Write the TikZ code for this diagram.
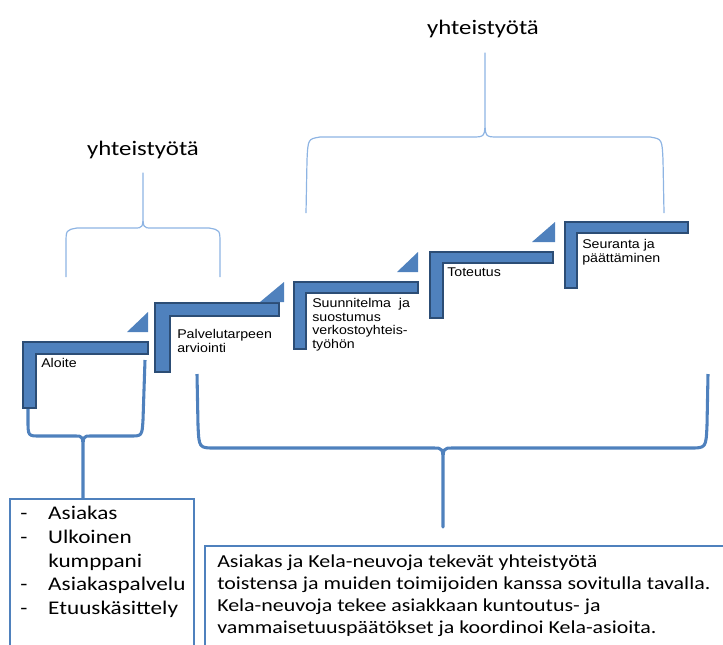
\documentclass[tikz,border=0pt]{standalone}
\usepackage{fontspec}
\setmainfont{Carlito}
\newfontfamily\calw[FakeStretch=1.2]{Carlito}
\newfontfamily\arialw[FakeStretch=1.12]{Liberation Sans}
\usetikzlibrary{positioning}

\definecolor{stepblue}{HTML}{4F81BD}
\definecolor{stepedge}{HTML}{2C4D75}
\definecolor{bracelight}{HTML}{8EB4E3}

\begin{document}
\begin{tikzpicture}[x=0.75pt, y=-0.75pt,
    stepbar/.style={draw=stepedge, fill=stepblue, line width=1.1pt},
    steptri/.style={fill=stepblue},
    steplbl/.style={anchor=north west, inner sep=0pt, align=left, font={\arialw\fontsize{9.5}{10.2}\selectfont}},
    toplbl/.style={inner sep=0pt, font={\calw\fontsize{15.5}{18}\selectfont}},
    thinbrace/.style={draw=bracelight, line width=0.9pt, line join=round},
    thickbrace/.style={draw=stepblue, line width=2.3pt, line join=round},
    infobox/.style={draw=stepblue, line width=1.5pt, fill=white, anchor=north west, inner sep=0pt},
    listlbl/.style={anchor=north west, inner sep=0pt, align=left, font={\calw\fontsize{14.5}{17.8}\selectfont}},
    boxlbl/.style={anchor=north west, inner sep=0pt, align=left, font={\calw\fontsize{13.7}{16.5}\selectfont}}]
      \useasboundingbox (0,0) rectangle (723,644);
      \clip (0,0) rectangle (723,644);

      % yhteistyo braces above the steps
      \draw[thinbrace] (66,277) -- (66,244) .. controls (66,230) .. (77,228) -- (134,228) .. controls (143,228) .. (143,212) -- (143,173)
        -- (143,212) .. controls (143,228) .. (152,228) -- (209,228) .. controls (220,230) .. (220,244) -- (220,277);
      \draw[thinbrace] (306,213) -- (307,160) .. controls (308,139) .. (320,137) -- (472,137) .. controls (485,137) .. (485,118) -- (485,53)
        -- (485,118) .. controls (485,137) .. (498,137) -- (650,137) .. controls (662,139) .. (663,160) -- (664,213);
      \node[toplbl] (yht1) at (143,150) {yhteistyötä};
      \node[toplbl] (yht2) at (483,29) {yhteistyötä};

      % boxes below
      \node[infobox, minimum width=138pt, minimum height=150pt] (osapuolet) at (9,498) {};
      \node[infobox, minimum width=450pt, minimum height=150pt] (kuvaus) at (204,545) {};

      \draw[thickbrace] (28,380) -- (28,420) .. controls (28,436) .. (40,436) -- (75,436) .. controls (83,436) .. (83,452) -- (83,0 |- osapuolet.north)
        -- (83,452) .. controls (83,436) .. (91,436) -- (130,436) .. controls (142,436) .. (143,420) -- (145,360);
      \draw[thickbrace] (197,374) -- (198,425) .. controls (199,448) .. (215,448) -- (433,448) .. controls (443,448) .. (443,465) -- (443,527)
        -- (443,465) .. controls (443,448) .. (453,448) -- (690,448) .. controls (706,448) .. (707,425) -- (708,374);

      % steps
      \draw[stepbar] (23,342) -- (148,342) -- (148,354) -- (36,354) -- (36,408) -- (23,408) -- cycle;
      \draw[stepbar] (155,303) -- (279,303) -- (279,316) -- (170,316) -- (170,372) -- (155,372) -- cycle;
      \draw[stepbar] (294,282) -- (418,282) -- (418,293) -- (306,293) -- (306,349) -- (294,349) -- cycle;
      \draw[stepbar] (430,252) -- (553,252) -- (553,263) -- (443,263) -- (443,318) -- (430,318) -- cycle;
      \draw[stepbar] (565,222) -- (688,222) -- (688,233) -- (577,233) -- (577,288) -- (565,288) -- cycle;

      \fill[steptri] (127,332) -- (148,332) -- (148,312) -- cycle;
      \fill[steptri] (260,302) -- (284,302) -- (284,282) -- cycle;
      \fill[steptri] (397,272) -- (418,272) -- (418,252) -- cycle;
      \fill[steptri] (532,242) -- (555,242) -- (555,222) -- cycle;

      \node[steplbl] (aloite) at (41,358) {Aloite};
      \node[steplbl] (arviointi) at (177,329) {Palvelutarpeen\\arviointi};
      \node[steplbl] (suunnitelma) at (312,298) {Suunnitelma\ \ ja\\suostumus\\verkostoyhteis-\\työhön};
      \node[steplbl] (toteutus) at (447,268) {Toteutus};
      \node[steplbl] (seuranta) at (582,239) {Seuranta ja\\päättäminen};

      \node[listlbl] (lista) at (20,506) {\makebox[21pt][l]{-}Asiakas\\\makebox[21pt][l]{-}Ulkoinen\\\hspace*{21pt}kumppani\\\makebox[21pt][l]{-}Asiakaspalvelu\\\makebox[21pt][l]{-}Etuuskäsittely};
      \node[boxlbl] (teksti) at (217,555) {Asiakas ja Kela-neuvoja tekevät yhteistyötä\\toistensa ja muiden toimijoiden kanssa sovitulla tavalla.\\Kela-neuvoja tekee asiakkaan kuntoutus- ja\\vammaisetuuspäätökset ja koordinoi Kela-asioita.};
    \end{tikzpicture}
\end{document}
